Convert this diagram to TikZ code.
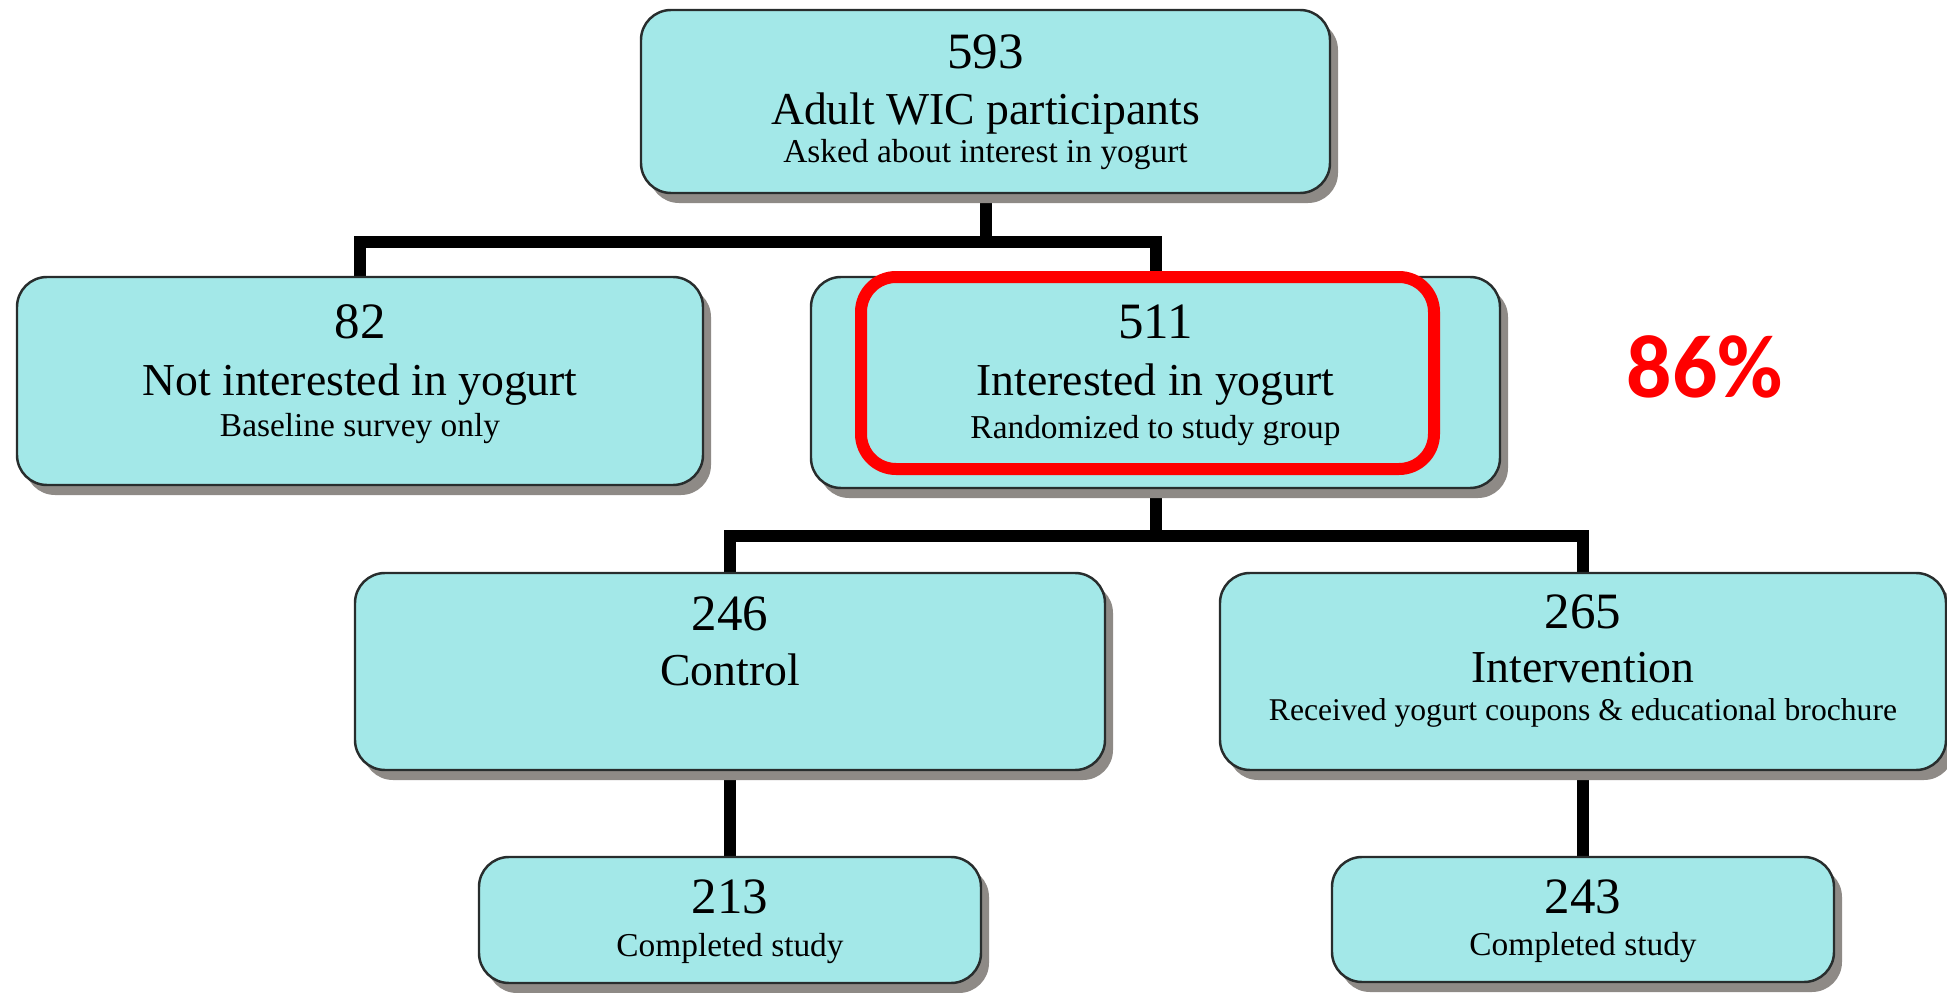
\documentclass[tikz,border=0pt]{standalone}
\usepackage{fontspec}
\setmainfont{Liberation Serif}
\newfontfamily\pctfont{Carlito}
\usetikzlibrary{calc, shadows, backgrounds}
\definecolor{boxfill}{RGB}{163,232,232}
\definecolor{boxline}{RGB}{40,45,45}
\definecolor{shade}{RGB}{142,138,134}
\definecolor{hilite}{RGB}{255,0,0}

\begin{document}
\begin{tikzpicture}[
  box/.style={draw=boxline, line width=0.7pt, fill=boxfill, rounded corners=0.3cm,
    drop shadow={shadow xshift=0.08cm, shadow yshift=-0.1cm, fill=shade, opacity=1}},
  num/.style={anchor=base, font=\fontsize{14.5}{17}\selectfont},
  lbl/.style={anchor=base, font=\fontsize{13}{16}\selectfont},
  sub/.style={anchor=base, font=\fontsize{9.5}{11}\selectfont},
  link/.style={line width=0.12cm}
]
  \useasboundingbox (0,0) rectangle (19.47,-9.93);
  % Screening
  \node[box, minimum width=6.89cm, minimum height=1.83cm] (top) at (9.855,-1.015) {};
  \node[num] (top-n) at (9.855,-0.68) {593};
  \node[lbl] (top-l) at (9.855,-1.25) {Adult WIC participants};
  \node[sub] (top-s) at (9.855,-1.63) {Asked about interest in yogurt};
  % Not interested
  \node[box, minimum width=6.86cm, minimum height=2.08cm] (n82) at (3.60,-3.81) {};
  \node[num] (n82-n) at (3.60,-3.38) {82};
  \node[lbl] (n82-l) at (3.60,-3.95) {Not interested in yogurt};
  \node[sub] (n82-s) at (3.60,-4.37) {Baseline survey only};
  % Interested
  \node[box, minimum width=6.89cm, minimum height=2.11cm] (n511) at (11.555,-3.825) {};
  \node[num] (n511-n) at (11.555,-3.38) {511};
  \node[lbl] (n511-l) at (11.555,-3.95) {Interested in yogurt};
  \node[sub] (n511-s) at (11.555,-4.38) {Randomized to study group};
  % Control
  \node[box, minimum width=7.50cm, minimum height=1.97cm] (n246) at (7.30,-6.715) {};
  \node[num] (n246-n) at (7.30,-6.30) {246};
  \node[lbl] (n246-l) at (7.30,-6.85) {Control};
  % Intervention
  \node[box, minimum width=7.26cm, minimum height=1.97cm] (n265) at (15.83,-6.715) {};
  \node[num] (n265-n) at (15.83,-6.28) {265};
  \node[lbl] (n265-l) at (15.83,-6.82) {Intervention};
  \node[sub, font=\fontsize{9}{11}\selectfont] (n265-s) at (15.83,-7.20) {Received yogurt coupons \& educational brochure};
  % Completed
  \node[box, minimum width=5.02cm, minimum height=1.26cm] (n213) at (7.30,-9.20) {};
  \node[num] (n213-n) at (7.30,-9.13) {213};
  \node[sub] (n213-s) at (7.30,-9.56) {Completed study};
  \node[box, minimum width=5.02cm, minimum height=1.25cm] (n243) at (15.83,-9.195) {};
  \node[num] (n243-n) at (15.83,-9.13) {243};
  \node[sub] (n243-s) at (15.83,-9.55) {Completed study};
  % Links
  \begin{scope}[on background layer]
    \draw[link] (top.south) -- ++(0,-0.48) coordinate (split1);
    \draw[link] (n82.north) |- (split1) -| (n511.north);
    \draw[link] (n511.south) -- ++(0,-0.47) coordinate (split2);
    \draw[link] (n246.north) |- (split2) -| (n265.north);
    \draw[link] (n246.south) -- (n213.north);
    \draw[link] (n265.south) -- (n243.north);
  \end{scope}
  % Highlight
  \node[draw=hilite, line width=0.12cm, rounded corners=0.35cm,
    minimum width=5.73cm, minimum height=1.92cm] (hl511) at (11.475,-3.73) {};
  \node[anchor=base, text=hilite, font=\pctfont\bfseries\fontsize{25.5}{30}\selectfont] (pct) at (17.05,-3.97) {86\%};
\end{tikzpicture}
\end{document}
